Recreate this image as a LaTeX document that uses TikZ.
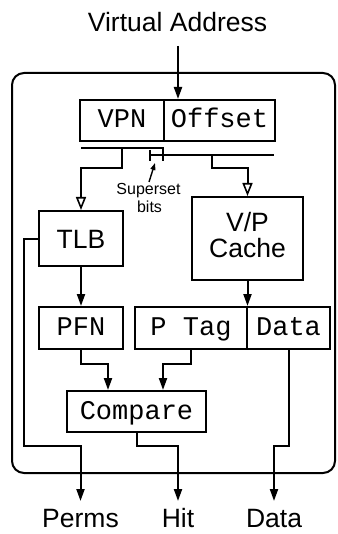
\documentclass[tikz,border=0pt]{standalone}
\usepackage{fontspec}
\setmainfont{Liberation Sans}
\setmonofont{Liberation Mono}
\usetikzlibrary{arrows.meta}

\newcommand\sansbig{\fontsize{26.5}{30}\selectfont}
\newcommand\monobig{\ttfamily\fontsize{27}{30}\selectfont}
\newcommand\sanssmall{\fontsize{16}{17}\selectfont}

\begin{document}
\begin{tikzpicture}[x=1pt, y=-1pt, line width=2pt,
  arr/.style={-{Triangle[length=12pt,width=8pt]}},
  oarr/.style={-{Triangle[open,length=13pt,width=10pt,line width=1.6pt]}},
  sarr/.style={line width=1.4pt,-{Triangle[length=7pt,width=5pt]}},
  mbox/.style={draw, line width=2pt, inner sep=0pt, font=\monobig,
    text height=15pt, text depth=0pt},
  sbox/.style={draw, line width=2pt, inner sep=0pt, font=\sansbig,
    text height=19pt, text depth=0pt},
  lbl/.style={font=\sansbig, inner sep=6pt, text height=19pt, text depth=0pt},
  small/.style={font=\sanssmall, inner sep=1pt}]

\useasboundingbox (0,0) rectangle (337,534);

% enclosing unit
\draw[rounded corners=12pt] (12,73) rectangle (335,473);

% address fields
\node[mbox, minimum width=84pt, minimum height=41pt] (vpn) at (122,120.5) {VPN};
\node[mbox, minimum width=111pt, minimum height=41pt] (off) at (219.5,120.5) {Offset};

% lookup structures
\node[sbox, minimum width=84pt, minimum height=55pt] (tlb) at (81,238.5) {TLB};
\node[draw, line width=2pt, minimum width=111pt, minimum height=83pt] (vpc) at (247.5,238.5) {};
\node[font=\sansbig, anchor=base, inner sep=0pt] (vpcA) at (247.5,232) {V/P};
\node[font=\sansbig, anchor=base, inner sep=0pt] (vpcB) at (247.5,257) {Cache};

% outputs of the lookups
\node[mbox, minimum width=84pt, minimum height=42pt] (pfn) at (81,328) {PFN};
\node[mbox, minimum width=112pt, minimum height=42pt] (ptag) at (191,328) {P Tag};
\node[mbox, minimum width=83pt, minimum height=42pt] (data) at (288.5,328) {Data};
\node[mbox, minimum width=139pt, minimum height=41pt] (cmp) at (136.5,411.5) {Compare};

% external labels
\node[lbl, anchor=base] (va) at (177.5,32) {Virtual Address};
\node[lbl, anchor=base] (perms) at (80.5,527) {Perms};
\node[lbl, anchor=base] (hit) at (178,527) {Hit};
\node[lbl, anchor=base] (dout) at (274,527) {Data};
\node[small, anchor=base] (ssA) at (148.5,195) {Superset};
\node[small, anchor=base] (ssB) at (149.5,212) {bits};

% bit buses
\coordinate (vain) at (178,46);
\coordinate (vbusA) at (81,148);
\coordinate (vbusB) at (163,148);
\coordinate (vbusC) at (163,161);
\coordinate (obusA) at (150,150);
\coordinate (obusB) at (150,161);
\coordinate (obusC) at (150,155);
\coordinate (obusD) at (274,155);
\coordinate (vtap) at (122,148);
\coordinate (otap) at (212,155);
\coordinate (sstail) at (149,182);
\coordinate (sstip) at (155,163);
\coordinate (permsturn) at (24,446);
\coordinate (dataturn) at (288.5,446);

\draw[arr] (vain) -- (vain |- off.north);
\draw (vbusA) -- (vbusB) -- (vbusC);
\draw (obusA) -- (obusB);
\draw (obusC) -- (obusD);
\draw[sarr] (sstail) -- (sstip);

\draw[oarr] (vtap) -- ++(0,20) -| (tlb.north);
\draw[oarr] (otap) -- ++(0,13) -| (vpc.north);

\draw[arr] (tlb.south) -- (pfn.north);
\draw[arr] (vpc.south) -- (vpc.south |- ptag.north);

\draw[arr] (pfn.south) -- ++(0,14) -| ([xshift=-28.5pt]cmp.north);
\draw[arr] (ptag.south) -- ++(0,14) -| ([xshift=26.5pt]cmp.north);

\draw[arr] (cmp.south) -- ++(0,13) -| (hit.north);
\draw[arr] (tlb.west) -| (permsturn) -| (perms.north);
\draw[arr] (data.south) -- (dataturn) -| (dout.north);

\end{tikzpicture}
\end{document}
